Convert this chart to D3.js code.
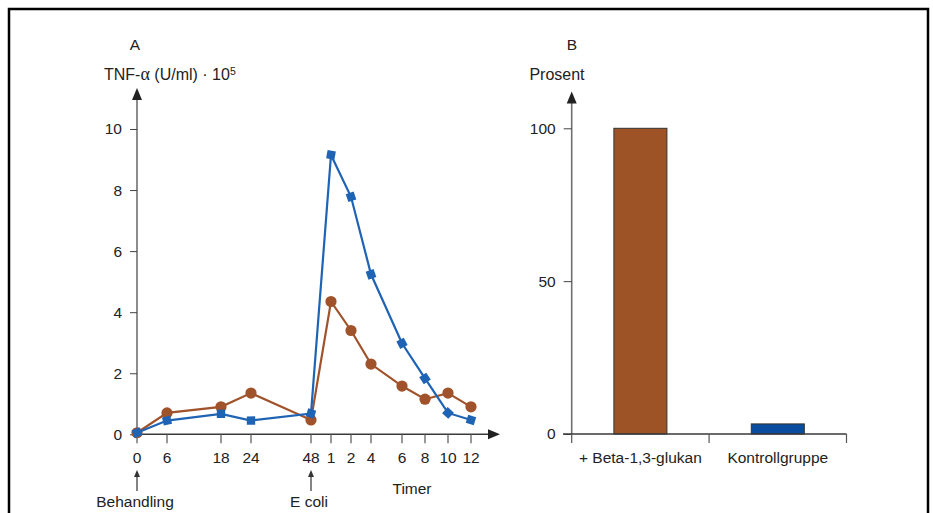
<!DOCTYPE html>
<html>
<head>
<meta charset="utf-8">
<script src="https://cdn.jsdelivr.net/npm/d3@7"></script>
<style>
  body { margin: 0; background: #fff; }
  svg text { font-family: "Liberation Sans", Arial, sans-serif; fill: #222; }
</style>
</head>
<body>
<div id="chart"></div>
<script>
// Panel A data: time labels (hours after treatment, then hours after E. coli)
const timeLabels = ["0", "6", "18", "24", "48", "1", "2", "4", "6", "8", "10", "12"];
const glucanSeries = [0.05, 0.7, 0.9, 1.35, 0.47, 4.35, 3.4, 2.3, 1.58, 1.15, 1.35, 0.9];
const controlSeries = [0.05, 0.45, 0.67, 0.45, 0.68, 9.15, 7.78, 5.24, 2.98, 1.83, 0.7, 0.47];
const yTicksA = [0, 2, 4, 6, 8, 10];

// Panel B data
const groups = ["+ Beta-1,3-glukan", "Kontrollgruppe"];
const survival = [100, 3.3];
const yTicksB = [0, 50, 100];

// axis layout: horizontal slot of each time label (the original axis is not to scale)
const xSlots = [0, 1.5, 4.2, 5.7, 8.7, 9.7, 10.7, 11.7, 13.25, 14.4, 15.55, 16.7];

const brown = "#a0522b";
const blue = "#1f63b4";
const fontSize = "15.5px";

const width = 933, height = 513;

const svg = d3.select("#chart")
  .append("svg")
  .attr("width", width)
  .attr("height", height);

// outer frame
svg.append("rect")
  .attr("x", 9).attr("y", 9)
  .attr("width", 919).attr("height", 530)
  .attr("fill", "none")
  .attr("stroke", "#000")
  .attr("stroke-width", 2.5);

function arrowUp(g, x, y) {
  g.append("path")
    .attr("d", `M${x},${y} L${x - 5},${y + 12} L${x + 5},${y + 12} Z`)
    .attr("fill", "#222");
}
function arrowRight(g, x, y) {
  g.append("path")
    .attr("d", `M${x},${y} L${x - 12},${y - 5} L${x - 12},${y + 5} Z`)
    .attr("fill", "#222");
}

// ---------- Panel A ----------
const xA = d3.scaleLinear().domain([0, 18.15]).range([137, 500]);
const yA = d3.scaleLinear().domain([0, 10]).range([434.3, 129]);

const gA = svg.append("g");

// y axis
gA.append("line")
  .attr("x1", xA(0)).attr("x2", xA(0))
  .attr("y1", yA(0)).attr("y2", 98)
  .attr("stroke", "#707070").attr("stroke-width", 1.6);
arrowUp(gA, xA(0), 88);

const yAxisA = gA.append("g")
  .attr("transform", `translate(${xA(0)},0)`)
  .call(d3.axisLeft(yA).tickValues(yTicksA).tickSize(7).tickPadding(8));
yAxisA.select(".domain").remove();
yAxisA.selectAll(".tick line").attr("stroke", "#444");
yAxisA.selectAll("text").style("font-size", fontSize).attr("fill", "#222")
  .style("font-family", "Liberation Sans, Arial, sans-serif");

// x axis
gA.append("line")
  .attr("x1", xA(0)).attr("x2", 490)
  .attr("y1", yA(0)).attr("y2", yA(0))
  .attr("stroke", "#3a3a3a").attr("stroke-width", 1.4);
arrowRight(gA, 500, yA(0));

gA.selectAll(".xtick")
  .data(timeLabels)
  .enter()
  .append("line")
  .attr("x1", (d, i) => xA(xSlots[i]))
  .attr("x2", (d, i) => xA(xSlots[i]))
  .attr("y1", yA(0))
  .attr("y2", yA(0) + 9)
  .attr("stroke", "#555")
  .attr("stroke-width", 1.2);

gA.selectAll(".xlabel")
  .data(timeLabels)
  .enter()
  .append("text")
  .attr("x", (d, i) => xA(xSlots[i]))
  .attr("y", 463)
  .attr("text-anchor", "middle")
  .style("font-size", fontSize)
  .text(d => d);

// series lines
const line = d3.line()
  .x((d, i) => xA(xSlots[i]))
  .y(d => yA(d));

gA.append("path")
  .datum(glucanSeries)
  .attr("d", line)
  .attr("fill", "none")
  .attr("stroke", brown)
  .attr("stroke-width", 2.2);

gA.selectAll(".dot")
  .data(glucanSeries)
  .enter()
  .append("circle")
  .attr("cx", (d, i) => xA(xSlots[i]))
  .attr("cy", d => yA(d))
  .attr("r", 5.6)
  .attr("fill", brown);

gA.append("path")
  .datum(controlSeries)
  .attr("d", line)
  .attr("fill", "none")
  .attr("stroke", blue)
  .attr("stroke-width", 2.2);

// square markers turned along the line direction
function segAngle(i) {
  const a = Math.max(0, i - 1), b = Math.min(controlSeries.length - 1, i + 1);
  const dx = xA(xSlots[b]) - xA(xSlots[a]);
  const dy = yA(controlSeries[b]) - yA(controlSeries[a]);
  return Math.atan2(dy, dx) * 180 / Math.PI;
}
gA.selectAll(".marker")
  .data(controlSeries)
  .enter()
  .append("path")
  .attr("d", d3.symbol().type(d3.symbolSquare).size(70))
  .attr("transform", (d, i) => `translate(${xA(xSlots[i])},${yA(d)}) rotate(${segAngle(i)})`)
  .attr("fill", blue);

// titles and annotations
gA.append("text").attr("x", 135).attr("y", 50)
  .attr("text-anchor", "middle").style("font-size", fontSize).text("A");

const yLabel = gA.append("text").attr("x", 104).attr("y", 80).style("font-size", "16px");
yLabel.append("tspan").text("TNF-");
yLabel.append("tspan").style("font-family", "Liberation Serif, serif").style("font-size", "18px").text("α");
yLabel.append("tspan").text(" (U/ml) · 10");
yLabel.append("tspan").attr("dy", -5).style("font-size", "10.5px").text("5");

gA.append("text").attr("x", 412).attr("y", 494)
  .attr("text-anchor", "middle").style("font-size", fontSize).text("Timer");

[["Behandling", 0], ["E coli", 4]].forEach(([label, idx]) => {
  const x = xA(xSlots[idx]);
  gA.append("line")
    .attr("x1", x).attr("x2", x)
    .attr("y1", 474).attr("y2", 491)
    .attr("stroke", "#333").attr("stroke-width", 1.2);
  gA.append("path")
    .attr("d", `M${x},${470} L${x - 3},${477} L${x + 3},${477} Z`)
    .attr("fill", "#333");
  gA.append("text").attr("x", x - 2).attr("y", 507)
    .attr("text-anchor", "middle").style("font-size", fontSize).text(label);
});

// ---------- Panel B ----------
const xB = d3.scaleBand()
  .domain(groups)
  .range([571.7, 846.5])
  .paddingInner(0.614)
  .paddingOuter(0.307);
const yB = d3.scaleLinear().domain([0, 100]).range([434, 128.3]);

const gB = svg.append("g");

gB.append("line")
  .attr("x1", 571.7).attr("x2", 571.7)
  .attr("y1", yB(0)).attr("y2", 102)
  .attr("stroke", "#707070").attr("stroke-width", 1.6);
arrowUp(gB, 571.7, 91.5);

const yAxisB = gB.append("g")
  .attr("transform", "translate(571.7,0)")
  .call(d3.axisLeft(yB).tickValues(yTicksB).tickSize(8).tickPadding(8));
yAxisB.select(".domain").remove();
yAxisB.selectAll(".tick line").attr("stroke", "#444");
yAxisB.selectAll("text").style("font-size", fontSize).attr("fill", "#222")
  .style("font-family", "Liberation Sans, Arial, sans-serif");

// bars
gB.selectAll(".bar")
  .data(survival)
  .enter()
  .append("rect")
  .attr("x", (d, i) => xB(groups[i]))
  .attr("y", d => yB(d))
  .attr("width", xB.bandwidth())
  .attr("height", d => yB(0) - yB(d))
  .attr("fill", (d, i) => i === 0 ? "#9e5326" : "#0a4c9f")
  .attr("stroke", "#333")
  .attr("stroke-width", 1);

// x axis (drawn over bar bottoms)
gB.append("line")
  .attr("x1", 563).attr("x2", 846.5)
  .attr("y1", yB(0)).attr("y2", yB(0))
  .attr("stroke", "#3a3a3a").attr("stroke-width", 1.4);

const bTicks = [xB.range()[0], ...groups.slice(1).map(g => xB(g) - xB.step() * xB.paddingInner() / 2), xB.range()[1]];
gB.selectAll(".btick")
  .data(bTicks)
  .enter()
  .append("line")
  .attr("x1", d => d).attr("x2", d => d)
  .attr("y1", yB(0)).attr("y2", yB(0) + 9)
  .attr("stroke", "#555").attr("stroke-width", 1.2);

gB.selectAll(".blabel")
  .data(groups)
  .enter()
  .append("text")
  .attr("x", d => xB(d) + xB.bandwidth() / 2)
  .attr("y", 463)
  .attr("text-anchor", "middle")
  .style("font-size", fontSize)
  .text(d => d);

gB.append("text").attr("x", 572).attr("y", 50)
  .attr("text-anchor", "middle").style("font-size", fontSize).text("B");
gB.append("text").attr("x", 557).attr("y", 80)
  .attr("text-anchor", "middle").style("font-size", "16px").text("Prosent");
</script>
</body>
</html>
